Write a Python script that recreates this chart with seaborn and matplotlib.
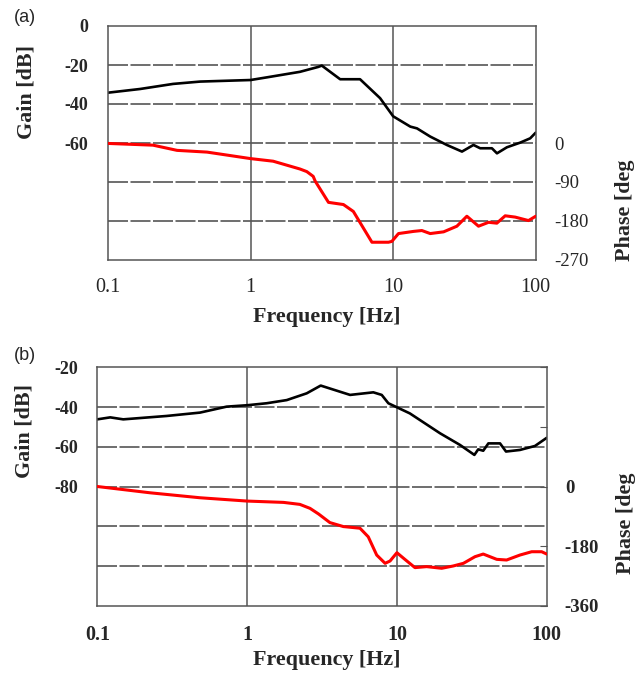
import numpy as np
import pandas as pd
import matplotlib
matplotlib.use("Agg")
import matplotlib.pyplot as plt
import seaborn as sns

# ---------------- data ----------------
# Panel (a)
freq_gain_a = [0.1, 0.168, 0.286, 0.443, 1.0, 1.31, 2.22, 2.98, 3.16, 4.25, 5.86, 8.1,
               10.0, 13.2, 14.7, 18.2, 23.8, 30.4, 36.6, 40.8, 49.3, 53.5, 62.8, 77.9, 91.5, 100.0]
gain_a = [-34.2, -32.3, -29.7, -28.5, -27.7, -26.3, -23.5, -21.0, -20.3, -27.3, -27.3, -37.0,
          -46.3, -51.6, -52.5, -56.7, -61.0, -64.4, -61.0, -62.7, -62.7, -65.3, -62.2, -59.8, -57.6, -54.7]
freq_phase_a = [0.1, 0.207, 0.305, 0.495, 1.0, 1.44, 2.22, 2.48, 2.75, 2.84, 3.52, 4.48, 5.26, 7.1,
                9.28, 9.8, 10.9, 13.9, 15.9, 18.2, 22.6, 28.0, 32.9, 39.7, 46.7, 53.4, 61.1, 71.8, 89.0, 100.0]
phase_a = [-1, -5, -17, -21, -36, -42, -60, -66, -77, -88, -137, -142, -158, -229,
           -229, -227, -209, -204, -202, -209, -205, -192, -169, -192, -183, -185, -168, -171, -179, -169]

# Panel (b)
freq_gain_b = [0.1, 0.122, 0.149, 0.29, 0.485, 0.73, 1.0, 1.35, 1.84, 2.5, 3.1, 4.87, 6.96, 7.92,
               8.77, 12.2, 19.4, 26.4, 32.9, 34.9, 37.7, 40.8, 48.8, 53.5, 66.3, 83.5, 100.0]
gain_b = [-46.2, -45.2, -46.2, -44.5, -42.8, -39.8, -39.1, -38.1, -36.5, -33.1, -29.2, -33.9, -32.6, -33.9,
          -38.1, -43.2, -53.2, -59.1, -64.1, -61.3, -62.0, -58.3, -58.3, -62.4, -61.6, -59.6, -55.5]
freq_phase_b = [0.1, 0.225, 0.485, 1.0, 1.75, 2.25, 2.63, 3.0, 3.57, 4.39, 5.67, 6.44, 7.33, 8.34,
                9.0, 10.0, 11.3, 13.2, 15.8, 19.9, 23.8, 27.8, 33.2, 37.7, 46.4, 54.0, 66.3, 79.4, 92.6, 100.0]
phase_b = [0, -19, -34, -44, -48, -54, -66, -83, -109, -121, -126, -152, -207, -232,
           -225, -200, -220, -245, -242, -247, -240, -232, -212, -204, -220, -222, -207, -197, -197, -204]

x_ticks = [0.1, 1, 10, 100]
x_ticklabels = ["0.1", "1", "10", "100"]

gain_ticks_a = [0, -20, -40, -60, -80, -100, -120]
gain_labels_a = ["0", "-20", "-40", "-60", "", "", ""]
phase_ticks_a = [270, 180, 90, 0, -90, -180, -270]
phase_labels_a = ["", "", "", "0", "-90", "-180", "-270"]

gain_ticks_b = [-20, -40, -60, -80, -100, -120, -140]
gain_labels_b = ["-20", "-40", "-60", "-80", "", "", ""]
phase_ticks_b = [360, 180, 0, -180, -360]
phase_labels_b = ["", "", "0", "-180", "-360"]

# ---------------- style ----------------
sns.set_style("white")
plt.rcParams["font.family"] = ["Liberation Serif", "DejaVu Serif"]

GRID = "#555555"
RED = "#ff0000"

fig = plt.figure(figsize=(6.36, 6.75), dpi=100)

def pos(l, r, t, b):
    W, H = 636.0, 675.0
    return [l / W, 1 - b / H, (r - l) / W, (b - t) / H]

def panel(rect, fg, g, fp, p, gticks, glabels, gl, pticks, plabels, pl,
          bold_left, bold_right, bold_x, right_ticklen, lpad, rpad, xpad):
    ax = fig.add_axes(rect)
    ax.set_xscale("log")
    sns.lineplot(x=fg, y=g, ax=ax, color="black", linewidth=1.9, sort=True)
    ax.set_xlim(0.1, 100)
    ax.set_ylim(gl)
    ax.set_yticks(gticks)
    ax.set_yticklabels(glabels, fontsize=13, fontweight="bold" if bold_left else "normal")
    ax.set_xticks(x_ticks)
    ax.set_xticklabels(x_ticklabels, fontsize=14.5, fontweight="bold" if bold_x else "normal")
    ax.xaxis.set_minor_locator(matplotlib.ticker.NullLocator())
    ax.tick_params(axis="both", length=0)
    ax.tick_params(axis="y", pad=lpad)
    ax.tick_params(axis="x", pad=xpad)
    ax.grid(False)
    for yv in gticks[1:-1]:
        ax.axhline(yv, color=GRID, linewidth=1.2, linestyle=(0, (12, 1.5)), zorder=0.5)
    for xv in [1, 10]:
        ax.axvline(xv, color=GRID, linewidth=1.1, linestyle="-", zorder=0.5)
    for s in ax.spines.values():
        s.set_color(GRID)
        s.set_linewidth(1.1)
    ax.set_xlabel("")
    ax.set_ylabel("")

    ax2 = ax.twinx()
    sns.lineplot(x=fp, y=p, ax=ax2, color=RED, linewidth=2.2, sort=True)
    ax2.set_ylim(pl)
    ax2.set_yticks(pticks)
    ax2.set_yticklabels(plabels, fontsize=13.5, fontweight="bold" if bold_right else "normal")
    ax2.tick_params(axis="y", direction="in", length=right_ticklen, color=GRID, pad=rpad)
    ax2.grid(False)
    for s in ax2.spines.values():
        s.set_visible(False)
    ax2.set_ylabel("")
    ax2.set_xlim(0.1, 100)
    return ax, ax2

# Panel (a)
ax_a, ax_a2 = panel(pos(108, 535.7, 26, 260), freq_gain_a, gain_a, freq_phase_a, phase_a,
                    gain_ticks_a, gain_labels_a, (-120, 0),
                    phase_ticks_a, phase_labels_a, (-270, 270),
                    True, False, False, 0, 14, 13.5, 13)
# Panel (b)
ax_b, ax_b2 = panel(pos(97.3, 546.7, 367.3, 605.7), freq_gain_b, gain_b, freq_phase_b, phase_b,
                    gain_ticks_b, gain_labels_b, (-140, -20),
                    phase_ticks_b, phase_labels_b, (-360, 360),
                    True, True, True, 5, 14, 13, 14)

def fy(y):
    return 1 - y / 675.0

lab = dict(fontsize=15.8, fontweight="bold")
fig.text(326.5 / 636, fy(317), "Frequency [Hz]", ha="center", va="center", **lab)
fig.text(327 / 636, fy(660), "Frequency [Hz]", ha="center", va="center", **lab)
fig.text(26.5 / 636, fy(92), "Gain [dB]", rotation=90, ha="center", va="center", **lab)
fig.text(25 / 636, fy(431), "Gain [dB]", rotation=90, ha="center", va="center", **lab)
fig.text(625 / 636, fy(261), "Phase [deg", rotation=90, ha="center", va="bottom", **lab)
fig.text(626.5 / 636, fy(574), "Phase [deg", rotation=90, ha="center", va="bottom", **lab)

fig.text(25 / 636, fy(18), "(a)", ha="center", va="center", fontsize=13,
         family=["Liberation Sans", "DejaVu Sans"])
fig.text(25 / 636, fy(356), "(b)", ha="center", va="center", fontsize=13,
         family=["Liberation Sans", "DejaVu Sans"])

fig.savefig("out.png", dpi=100)
